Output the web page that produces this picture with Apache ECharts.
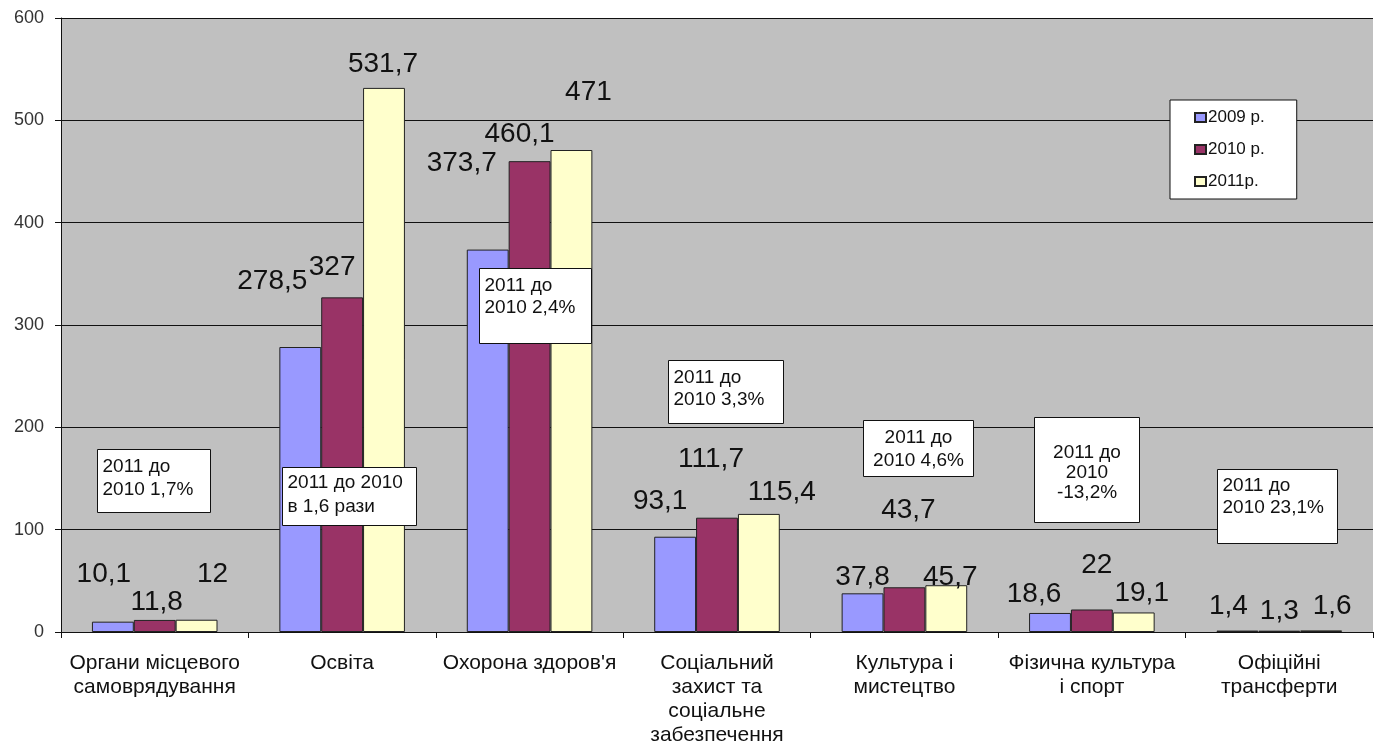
<!DOCTYPE html>
<html>
<head>
<meta charset="utf-8">
<script src="https://cdn.jsdelivr.net/npm/echarts@6/dist/echarts.min.js"></script>
<style>
  html, body { margin: 0; padding: 0; background: #fff; }
  #main { width: 1379px; height: 748px; }
</style>
</head>
<body>
<div id="main"></div>
<script>
// categories & values
const categories = [
  'Органи місцевого\nсамоврядування',
  'Освіта',
  'Охорона здоров\'я',
  'Соціальний\nзахист та\nсоціальне\nзабезпечення',
  'Культура і\nмистецтво',
  'Фізична культура\nі спорт',
  'Офіційні\nтрансферти'
]
const seriesNames = ['2009 р.', '2010 р.', '2011р.']
const values2009 = [10.1, 278.5, 373.7, 93.1, 37.8, 18.6, 1.4]
const values2010 = [11.8, 327, 460.1, 111.7, 43.7, 22, 1.3]
const values2011 = [12, 531.7, 471, 115.4, 45.7, 19.1, 1.6]
const yTicks = [0, 100, 200, 300, 400, 500, 600]

// label nudges (px), the original labels are placed by hand
const offs2009 = [[-9, -28], [-28, -47], [-26, -67], [-15, -16], [0, 3], [-16, 0], [-9, -5]]
const offs2010 = [[2, 1], [-10, -11], [-10, -8], [-6, -39], [4, -58], [5, -25], [0, 0]]
const offs2011 = [[16, -26], [-1, -5], [17, -39], [23, -3], [4, 11], [8, 0], [11, -5]]

// text boxes
const notes = [
  { text: '2011 до\n2010 1,7%', x: 97, y: 449, w: 113, h: 63, align: 'left', ty: 6, lh: 23 },
  { text: '2011 до 2010\nв 1,6 рази', x: 282, y: 467, w: 134, h: 58, align: 'left', ty: 3, lh: 24 },
  { text: '2011 до\n2010 2,4%', x: 479, y: 268, w: 112, h: 75, align: 'left', ty: 6, lh: 22 },
  { text: '2011 до\n2010 3,3%', x: 668, y: 360, w: 115, h: 63, align: 'left', ty: 6, lh: 22 },
  { text: '2011 до\n2010 4,6%', x: 863, y: 420, w: 110, h: 56, align: 'center', ty: 6, lh: 23 },
  { text: '2011 до\n2010\n-13,2%', x: 1034, y: 417, w: 105, h: 105, align: 'center', ty: 25, lh: 20 },
  { text: '2011 до\n2010 23,1%', x: 1217, y: 469, w: 120, h: 74, align: 'left', ty: 5, lh: 22 }
]

const colors = ['#9999ff', '#993366', '#ffffcc']
const font = '"Liberation Sans", Arial, sans-serif'

function mkData(vals, offs) {
  return vals.map((v, i) => ({ value: v, label: { offset: offs[i] } }))
}

function mkSeries(name, vals, offs, color) {
  return {
    name: name,
    type: 'bar',
    barGap: '0%',
    barCategoryGap: '33%',
    itemStyle: { color: color, borderColor: '#222', borderWidth: 1 },
    label: {
      show: true,
      position: 'top',
      distance: 5,
      color: '#111',
      fontSize: 28,
      fontFamily: font,
      formatter: p => String(p.value).replace('.', ',')
    },
    data: mkData(vals, offs)
  }
}

const graphic = notes.map(n => ({
  type: 'group',
  left: n.x,
  top: n.y,
  z: 100,
  children: [
    { type: 'rect', z: 100, shape: { x: 0, y: 0, width: n.w, height: n.h },
      style: { fill: '#fff', stroke: '#111', lineWidth: 1 } },
    { type: 'text', z: 101,
      x: n.align === 'center' ? n.w / 2 : 5, y: n.ty,
      style: { text: n.text, fill: '#111', fontSize: 19, fontFamily: font,
        align: n.align, lineHeight: n.lh } }
  ]
}))

const chart = echarts.init(document.getElementById('main'))
chart.setOption({
  backgroundColor: '#fff',
  animation: false,
  textStyle: { fontFamily: font },
  grid: {
    left: 61, right: 6, top: 18, bottom: 116,
    show: true, backgroundColor: '#c0c0c0', borderWidth: 0
  },
  legend: {
    data: seriesNames,
    orient: 'vertical',
    left: 1170,
    top: 100,
    backgroundColor: '#fff',
    borderColor: '#111',
    borderWidth: 1,
    padding: [9, 32, 9, 24],
    itemWidth: 11,
    itemHeight: 9,
    itemGap: 15,
    icon: 'rect',
    textStyle: { fontSize: 17, color: '#111', fontFamily: font, padding: [0, 0, 0, -3] }
  },
  xAxis: {
    type: 'category',
    data: categories,
    axisLine: { lineStyle: { color: '#111', width: 1 } },
    axisTick: { show: true, length: 6, lineStyle: { color: '#111' } },
    axisLabel: {
      color: '#111', fontSize: 21, fontFamily: font, lineHeight: 24,
      margin: 19, interval: 0
    }
  },
  yAxis: {
    type: 'value',
    min: yTicks[0],
    max: yTicks[yTicks.length - 1],
    interval: 100,
    axisLine: { show: true, lineStyle: { color: '#111', width: 1 } },
    axisTick: { show: true, length: 6, lineStyle: { color: '#111' } },
    splitLine: { show: true, lineStyle: { color: '#111', width: 1 } },
    axisLabel: { color: '#333', fontSize: 18, fontFamily: font, margin: 17 }
  },
  series: [
    mkSeries(seriesNames[0], values2009, offs2009, colors[0]),
    mkSeries(seriesNames[1], values2010, offs2010, colors[1]),
    mkSeries(seriesNames[2], values2011, offs2011, colors[2])
  ],
  graphic: graphic
})
</script>
</body>
</html>
